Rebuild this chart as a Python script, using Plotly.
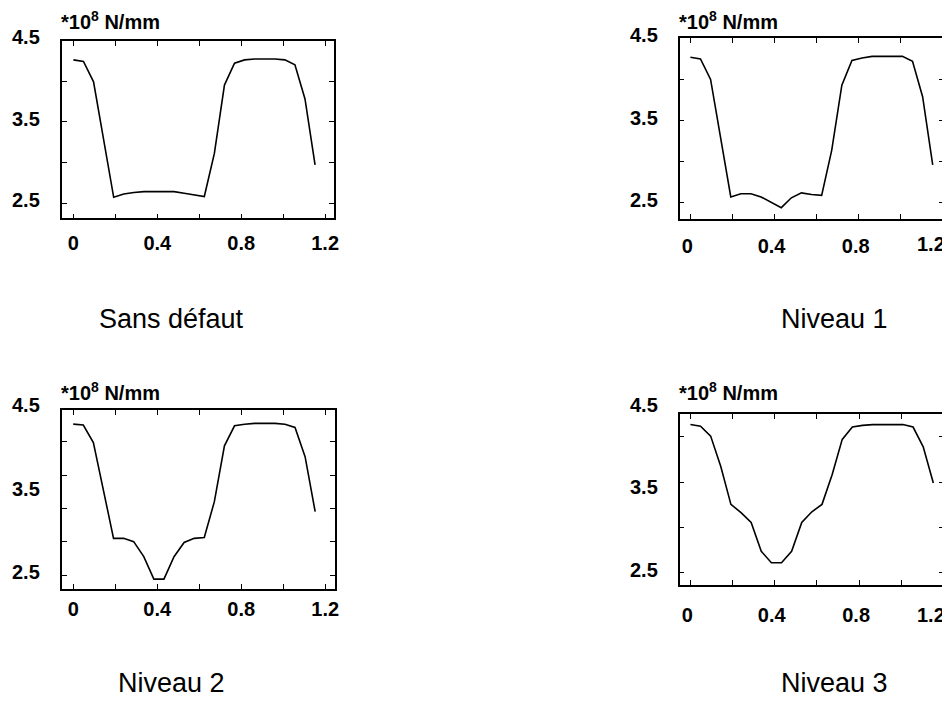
import plotly.graph_objects as go

# ---------------- data ----------------
X_POS = [0.0, 0.048, 0.096, 0.144, 0.192, 0.24, 0.288, 0.336, 0.384, 0.432,
         0.48, 0.528, 0.576, 0.624, 0.672, 0.72, 0.768, 0.816, 0.864, 0.912,
         0.96, 1.008, 1.056, 1.104, 1.152]

SANS_DEFAUT = [4.26, 4.24, 3.99, 3.28, 2.57, 2.61, 2.63, 2.64, 2.64, 2.64,
               2.64, 2.62, 2.60, 2.58, 3.11, 3.95, 4.22, 4.26, 4.27, 4.27,
               4.27, 4.26, 4.20, 3.78, 2.97]

NIVEAU_1 = [4.27, 4.25, 4.00, 3.29, 2.57, 2.61, 2.61, 2.57, 2.50, 2.44,
            2.56, 2.62, 2.60, 2.59, 3.14, 3.93, 4.23, 4.26, 4.28, 4.28,
            4.28, 4.28, 4.22, 3.79, 2.96]

NIVEAU_2 = [4.31, 4.30, 4.09, 3.52, 2.94, 2.94, 2.90, 2.72, 2.45, 2.45,
            2.72, 2.89, 2.94, 2.95, 3.38, 4.05, 4.29, 4.31, 4.32, 4.32,
            4.32, 4.31, 4.27, 3.92, 3.26]

NIVEAU_3 = [4.30, 4.28, 4.16, 3.79, 3.33, 3.23, 3.11, 2.76, 2.62, 2.62,
            2.76, 3.11, 3.24, 3.33, 3.69, 4.12, 4.27, 4.29, 4.30, 4.30,
            4.30, 4.30, 4.27, 4.03, 3.59]

SERIES = [SANS_DEFAUT, NIVEAU_1, NIVEAU_2, NIVEAU_3]
CAPTIONS = ["Sans défaut", "Niveau 1", "Niveau 2", "Niveau 3"]
UNIT_LABEL = "*10<sup>8</sup> N/mm"
X_TICK_VALS = [0, 0.4, 0.8, 1.2]
X_TICK_TEXT = ["0", "0.4", "0.8", "1.2"]
X_MINOR_STEP = 0.2
Y_LABELS = [4.5, 3.5, 2.5]

# ---------------- layout geometry ----------------
# page body keeps its 8px margin; the captured page comes out slightly
# narrower horizontally, so x positions are stretched by KX
OFF = 8
KX = 1 / 0.9894
W, H = 944, 702 - 2 * OFF
PANELS = [
    dict(box=(62, 331.7, 41, 218.3), xr=[-0.0526, 1.240], yr=[2.312, 4.492],
         yt=[2.5, 3.0, 3.5, 4.0, 4.5], standoff=6, shift=0, edge_label=None,
         title=(59, 21), cap=(171, 319)),
    dict(box=(676, 939, 38.3, 219), xr=[-0.051, 1.206], yr=[2.302, 4.50],
         yt=[2.5, 3.0, 3.5, 4.0, 4.5], standoff=8, shift=-3, edge_label=244,
         title=(673, 21), cap=(830, 319)),
    dict(box=(61.7, 333.3, 410, 588.5), xr=[-0.053, 1.247], yr=[2.338, 4.48],
         yt=[2.5, 2.9, 3.3, 3.7, 4.1], standoff=2, shift=0, edge_label=None,
         title=(59, 391), cap=(171, 683)),
    dict(box=(676, 939, 414.3, 585), xr=[-0.051, 1.203], yr=[2.35, 4.425],
         yt=[2.5, 3.05, 3.6, 4.15], standoff=11, shift=-3, edge_label=615,
         title=(673, 391), cap=(830, 683)),
]

FONT = "Liberation Sans, Arial, sans-serif"
TICK_FONT = dict(family=FONT, size=20, color="black", weight="bold")


def px(x):
    return (x * KX - OFF) / W


def py(y):
    return 1 - (y - OFF) / H


TICK = dict(ticks="inside", ticklen=5, tickwidth=1.4, tickcolor="black")

fig = go.Figure()
annotations = []
layout_axes = {}

for i, (p, ys) in enumerate(zip(PANELS, SERIES), start=1):
    xa = "x" if i == 1 else f"x{i}"
    ya = "y" if i == 1 else f"y{i}"
    xkey = "xaxis" if i == 1 else f"xaxis{i}"
    ykey = "yaxis" if i == 1 else f"yaxis{i}"
    x0, x1, y0, y1 = p["box"]
    r0, r1 = p["yr"]

    fig.add_trace(go.Scatter(x=X_POS, y=ys, mode="lines", xaxis=xa, yaxis=ya,
                             line=dict(color="black", width=1.6),
                             showlegend=False, hoverinfo="skip"))

    ticktext = list(X_TICK_TEXT)
    if p["edge_label"] is not None:
        # the last label sits at the window edge: draw it right-aligned there
        ticktext[-1] = ""
        annotations.append(dict(
            xref="paper", yref="paper", x=1.0, y=py(p["edge_label"]),
            text=X_TICK_TEXT[-1], xanchor="right", yanchor="middle",
            showarrow=False, font=TICK_FONT))

    layout_axes[xkey] = dict(
        domain=[px(x0), px(x1)], range=p["xr"], anchor=ya,
        showline=True, linecolor="black", linewidth=1.6, mirror="ticks",
        **TICK,
        minor=dict(tickmode="linear", tick0=0, dtick=X_MINOR_STEP, **TICK),
        tickmode="array", tickvals=X_TICK_VALS, ticktext=ticktext,
        ticklabelstandoff=p["standoff"], ticklabelshift=p["shift"],
        tickfont=TICK_FONT,
        showgrid=False, zeroline=False, fixedrange=True)
    layout_axes[ykey] = dict(
        domain=[py(y1), py(y0)], range=p["yr"], anchor=xa,
        showline=True, linecolor="black", linewidth=1.6, mirror="ticks",
        **TICK,
        tickmode="array", tickvals=p["yt"], showticklabels=False,
        showgrid=False, zeroline=False, fixedrange=True)

    for v in Y_LABELS:
        annotations.append(dict(
            xref=f"{xa} domain", x=0, yref=f"{ya} domain", y=(v - r0) / (r1 - r0),
            text=f"{v}", xanchor="right", yanchor="middle", xshift=-20, yshift=3,
            showarrow=False, font=TICK_FONT))

    tx, ty = p["title"]
    annotations.append(dict(
        xref="paper", yref="paper", x=px(tx), y=py(ty), text=UNIT_LABEL,
        xanchor="left", yanchor="middle", showarrow=False, font=TICK_FONT))

    cx, cy = p["cap"]
    annotations.append(dict(
        xref="paper", yref="paper", x=px(cx), y=py(cy), text=CAPTIONS[i - 1],
        xanchor="center", yanchor="middle", showarrow=False,
        font=dict(family=FONT, size=27, color="black")))

fig.update_layout(
    width=W, height=H, margin=dict(l=0, r=0, t=0, b=0),
    paper_bgcolor="white", plot_bgcolor="white",
    annotations=annotations, showlegend=False, **layout_axes)

fig.write_html("out.html", config={"displayModeBar": False})
